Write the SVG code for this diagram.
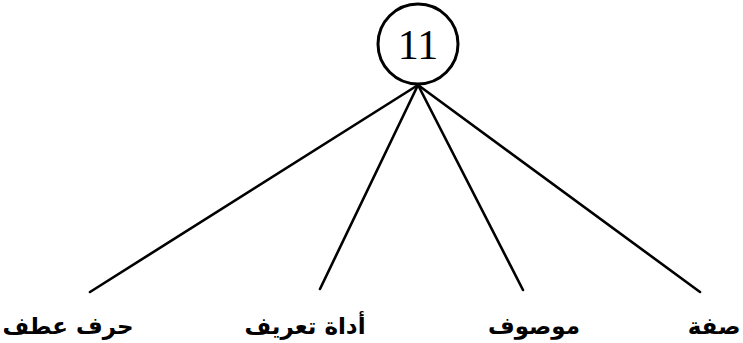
<svg xmlns="http://www.w3.org/2000/svg" width="743" height="343" viewBox="0 0 743 343">
  <style>
    .edge { stroke: #000; stroke-width: 2.6; fill: none; stroke-linecap: round; }
    .node { fill: #fff; stroke: #000; stroke-width: 3; }
    .num { font-family: "Liberation Serif", serif; font-size: 42px; fill: #000; text-anchor: middle; }
    .lbl { font-family: "DejaVu Sans", sans-serif; font-size: 23px; font-weight: bold; fill: #000; text-anchor: middle; direction: rtl; }
  </style>
  <rect width="743" height="343" fill="#fff"/>
  <g id="connectors">
    <line class="edge" x1="418" y1="85" x2="90" y2="292"/>
    <line class="edge" x1="418" y1="85" x2="320" y2="289"/>
    <line class="edge" x1="418" y1="85" x2="523" y2="290"/>
    <line class="edge" x1="418" y1="85" x2="700" y2="292"/>
  </g>
  <g id="root">
    <circle class="node" cx="418" cy="44" r="40"/>
    <text class="num" x="418" y="59">11</text>
  </g>
  <g id="leaf-1">
    <text class="lbl" x="68" y="334">حرف عطف</text>
  </g>
  <g id="leaf-2">
    <text class="lbl" x="305" y="334">أداة تعريف</text>
  </g>
  <g id="leaf-3">
    <text class="lbl" x="534" y="334">موصوف</text>
  </g>
  <g id="leaf-4">
    <text class="lbl" x="714" y="334">صفة</text>
  </g>
</svg>
